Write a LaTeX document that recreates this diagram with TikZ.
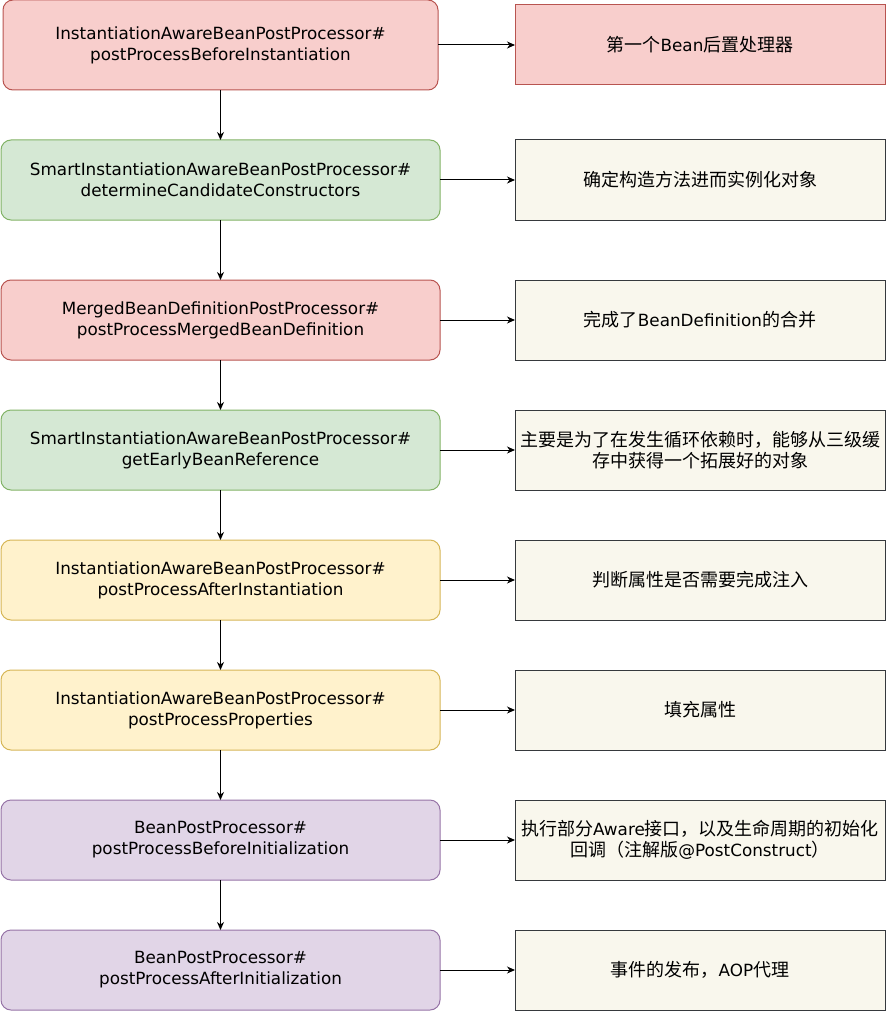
\documentclass[tikz,border=0pt]{standalone}
\usepackage{fontspec}
\setmainfont{DejaVu Sans}
\newfontfamily\cjk{Noto Sans CJK SC}
\usepackage{xcolor}
\usetikzlibrary{positioning,arrows.meta}

\definecolor{redfill}{HTML}{F8CECC}
\definecolor{reddraw}{HTML}{B85450}
\definecolor{greenfill}{HTML}{D5E8D4}
\definecolor{greendraw}{HTML}{82B366}
\definecolor{yellowfill}{HTML}{FFF2CC}
\definecolor{yellowdraw}{HTML}{D6B656}
\definecolor{purplefill}{HTML}{E1D5E7}
\definecolor{purpledraw}{HTML}{9673A6}
\definecolor{notefill}{HTML}{F9F7ED}
\definecolor{notedraw}{HTML}{36393D}

\newcommand{\zh}[1]{{\cjk\fontsize{18pt}{21pt}\selectfont #1}}

\begin{document}
\begin{tikzpicture}
		[x = 1pt, y = 1pt,
		 proc/.style = {draw, line width = 1pt, rounded corners = 10pt, inner sep = 0pt, outer sep = 0pt,
		                minimum width = 439pt, minimum height = 80pt, align = center,
		                font = \fontsize{16.8pt}{21pt}\selectfont},
		 red/.style    = {proc, fill = redfill, draw = reddraw},
		 green/.style  = {proc, fill = greenfill, draw = greendraw},
		 yellow/.style = {proc, fill = yellowfill, draw = yellowdraw},
		 purple/.style = {proc, fill = purplefill, draw = purpledraw},
		 note/.style = {draw = notedraw, fill = notefill, line width = 1pt, inner sep = 0pt, outer sep = 0pt,
		                minimum width = 370pt, minimum height = 80pt, align = center,
		                font = \fontsize{16.8pt}{21pt}\selectfont},
		 flow/.style = {line width = 1pt, -{Stealth[length = 8pt, width = 7pt, inset = 2.5pt]}}]
			\useasboundingbox (0,0) rectangle (886,-1011);
			% left column
			\node [red, minimum width = 435pt, minimum height = 90pt] (a1) at (220.5,-45)
				{InstantiationAwareBeanPostProcessor\#\\postProcessBeforeInstantiation};
			\node [green, below = 50pt of a1] (a2)
				{SmartInstantiationAwareBeanPostProcessor\#\\determineCandidateConstructors};
			\node [red, below = 60pt of a2] (a3)
				{MergedBeanDefinitionPostProcessor\#\\postProcessMergedBeanDefinition};
			\node [green, below = 50pt of a3] (a4)
				{SmartInstantiationAwareBeanPostProcessor\#\\getEarlyBeanReference};
			\node [yellow, below = 50pt of a4] (a5)
				{InstantiationAwareBeanPostProcessor\#\\postProcessAfterInstantiation};
			\node [yellow, below = 50pt of a5] (a6)
				{InstantiationAwareBeanPostProcessor\#\\postProcessProperties};
			\node [purple, below = 50pt of a6] (a7)
				{BeanPostProcessor\#\\postProcessBeforeInitialization};
			\node [purple, below = 50pt of a7] (a8)
				{BeanPostProcessor\#\\postProcessAfterInitialization};
			% right column
			\node [note, fill = redfill, draw = reddraw, right = 77pt of a1] (b1)
				{\zh{第一个}Bean\zh{后置处理器}};
			\node [note, right = 75pt of a2] (b2) {\zh{确定构造方法进而实例化对象}};
			\node [note, right = 75pt of a3] (b3) {\zh{完成了}BeanDefinition\zh{的合并}};
			\node [note, right = 75pt of a4] (b4)
				{\zh{主要是为了在发生循环依赖时，能够从三级缓}\\\zh{存中获得一个拓展好的对象}};
			\node [note, right = 75pt of a5] (b5) {\zh{判断属性是否需要完成注入}};
			\node [note, right = 75pt of a6] (b6) {\zh{填充属性}};
			\node [note, right = 75pt of a7] (b7)
				{\zh{执行部分}Aware\zh{接口，以及生命周期的初始化}\\\zh{回调（注解版}@PostConstruct\zh{）}};
			\node [note, right = 75pt of a8] (b8) {\zh{事件的发布，}AOP\zh{代理}};
			% arrows
			\draw [flow] (a1) -- (a2);
			\draw [flow] (a2) -- (a3);
			\draw [flow] (a3) -- (a4);
			\draw [flow] (a4) -- (a5);
			\draw [flow] (a5) -- (a6);
			\draw [flow] (a6) -- (a7);
			\draw [flow] (a7) -- (a8);
			\draw [flow] (a1) -- (b1);
			\draw [flow] (a2) -- (b2);
			\draw [flow] (a3) -- (b3);
			\draw [flow] (a4) -- (b4);
			\draw [flow] (a5) -- (b5);
			\draw [flow] (a6) -- (b6);
			\draw [flow] (a7) -- (b7);
			\draw [flow] (a8) -- (b8);
	\end{tikzpicture}
\end{document}
